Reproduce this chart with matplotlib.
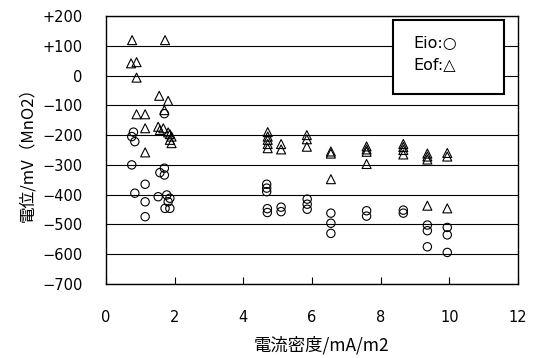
import matplotlib
matplotlib.use("Agg")
import matplotlib.pyplot as plt
from matplotlib.patches import Rectangle

plt.rcParams['font.family'] = ['Noto Sans CJK JP', 'DejaVu Sans']
plt.rcParams['axes.unicode_minus'] = True

# Eio (circles): current density [mA/m2], potential [mV vs MnO2]
eio_x = [0.80, 0.75, 0.84, 0.75, 0.84,
         1.14, 1.14, 1.14,
         1.70, 1.70, 1.57, 1.70, 1.77, 1.52, 1.86, 1.81, 1.72, 1.86,
         4.68, 4.68, 4.68, 4.70, 4.70, 5.10, 5.10,
         5.86, 5.86, 5.86,
         6.55, 6.55, 6.55,
         7.59, 7.59,
         8.66, 8.66,
         9.36, 9.36, 9.36,
         9.94, 9.94, 9.94]
eio_y = [-190, -205, -222, -300, -395,
         -365, -424, -474,
         -128, -311, -326, -334, -401, -407, -412, -424, -446, -446,
         -365, -378, -390, -447, -460, -442, -457,
         -415, -432, -449,
         -462, -496, -530,
         -454, -472,
         -452, -462,
         -502, -521, -575,
         -510, -535, -594]

# Eof (triangles)
eof_x = [0.76, 1.72, 0.73, 0.89, 0.89,
         1.55, 1.81, 1.70, 0.89, 1.14, 1.14,
         1.52, 1.57, 1.67, 1.81, 1.86, 1.91, 1.86, 1.91, 1.14,
         4.71, 4.71, 4.71, 4.71, 4.71,
         5.10, 5.10,
         5.85, 5.85, 5.85,
         6.55, 6.55, 6.55,
         7.59, 7.59, 7.59, 7.59,
         8.66, 8.66, 8.66, 8.66,
         9.36, 9.36, 9.36, 9.36,
         9.94, 9.94, 9.94]
eof_y = [119, 119, 41, 45, -7,
         -68, -85, -116, -130, -130, -177,
         -172, -183, -177, -191, -197, -205, -216, -227, -258,
         -190, -205, -216, -230, -244,
         -230, -248,
         -200, -214, -239,
         -255, -262, -348,
         -238, -248, -256, -297,
         -230, -240, -250, -265,
         -262, -272, -282, -437,
         -260, -272, -446]

x_ticks = [0, 2, 4, 6, 8, 10, 12]
y_ticks = [200, 100, 0, -100, -200, -300, -400, -500, -600, -700]
y_tick_labels = ['+200', '+100', '0', '\u2212100', '\u2212200', '\u2212300',
                 '\u2212400', '\u2212500', '\u2212600', '\u2212700']

fig = plt.figure(figsize=(5.34, 3.58), dpi=100)
ax = fig.add_axes([106 / 534, 1 - 284 / 358, 412 / 534, 268 / 358])

ax.scatter(eof_x, eof_y, marker='^', s=42, facecolors='none',
           edgecolors='black', linewidths=0.8, zorder=3)
ax.scatter(eio_x, eio_y, marker='o', s=36, facecolors='none',
           edgecolors='black', linewidths=0.8, zorder=3)

ax.set_xlim(0, 12)
ax.set_ylim(-700, 200)
ax.set_xticks(x_ticks)
ax.set_yticks(y_ticks)
ax.set_yticklabels(y_tick_labels)

ax.yaxis.grid(True, color='black', linewidth=0.8)
ax.set_axisbelow(True)
for sp in ax.spines.values():
    sp.set_linewidth(1.0)
    sp.set_color('black')

ax.tick_params(axis='x', direction='in', length=5, width=0.8, pad=19,
               labelsize=10.5, top=False, labelfontfamily='DejaVu Sans')
ax.tick_params(axis='y', direction='in', length=0, pad=17, labelsize=10.5,
               labelfontfamily='DejaVu Sans')

ax.set_xlabel('電流密度/mA/m2', fontsize=12.5, va='center')
ax.xaxis.set_label_coords(0.524, (284 - 345) / 268)
ax.set_ylabel('電位/mV（MnO2）', fontsize=12, va='center')
ax.yaxis.set_label_coords((28 - 106) / 412, 0.5)

# annotation box naming the two marker shapes
ax.add_patch(Rectangle((0.696, 0.708), 0.270, 0.277, transform=ax.transAxes,
                       facecolor='white', edgecolor='black', linewidth=1.5,
                       zorder=5))
ax.text(0.745, 0.881, 'Eio:\u25cb', transform=ax.transAxes, ha='left',
        va='baseline', fontsize=11.5, family=['DejaVu Sans'], zorder=6)
ax.text(0.745, 0.802, 'Eof:\u25b3', transform=ax.transAxes, ha='left',
        va='baseline', fontsize=11.5, family=['DejaVu Sans'], zorder=6)

fig.savefig('out.png', dpi=100)
